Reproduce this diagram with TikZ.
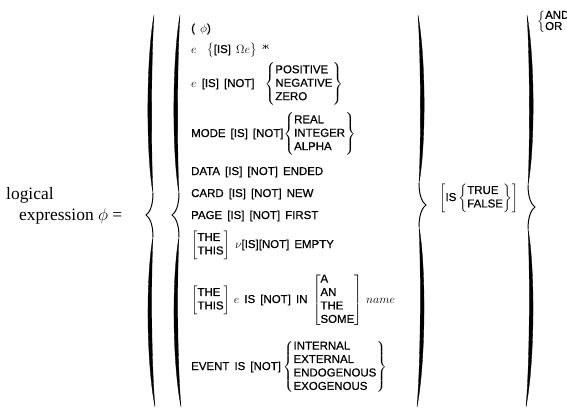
\documentclass[tikz,border=0pt]{standalone}
\usepackage{amsmath}
\usepackage{fontspec}
\usepackage{tikz}
\newfontfamily\capsfont[WordSpace=1.6, FakeBold=0.6]{Liberation Sans}
\newfontfamily\serifont{Liberation Serif}
\newfontfamily\symfont{DejaVu Sans}
\newcommand{\choice}[1]{\left\{\begin{tabular}{@{}l@{}}#1\end{tabular}\right\}}
\newcommand{\option}[1]{\left[\begin{tabular}{@{}l@{}}#1\end{tabular}\right]}
% #1 = x of tip, #2 = 1 for a left brace, -1 for a right one, #3 = y of tip
\newcommand{\bigbrace}[3]{%
\begin{scope}[shift={(#1,0)}, xscale=#2]
\filldraw[line width=0.3pt] (8,15) .. controls (0,60) and (0,{#3-60}) .. (7,{#3-22})
  .. controls (5,{#3-60}) and (5,60) .. (8,15);
\draw[line width=1pt] (7,{#3-22}) .. controls (7,{#3-8}) and (3,{#3-2}) .. (0,#3)
  .. controls (3,{#3+2}) and (7,{#3+8}) .. (7,{#3+22});
\filldraw[line width=0.3pt] (7,{#3+22}) .. controls (0,{#3+60}) and (0,360) .. (9,407)
  .. controls (5,360) and (5,{#3+60}) .. (7,{#3+22});
\end{scope}}

\begin{document}
\begin{tikzpicture}[x=1bp, y=-1bp,
  entry/.style={anchor=base west, inner sep=0pt, font=\capsfont\fontsize{11.5}{13.5}\selectfont},
  lhs/.style={anchor=base west, inner sep=0pt, font=\serifont\fontsize{17.5}{20}\selectfont}]
\useasboundingbox (0,0) rectangle (567,408);

\node[lhs] (logical) at (6,199) {logical};
\node[lhs] (expr) at (19,220) {expression $\phi$ =};

\bigbrace{146}{1}{215}
\bigbrace{172}{1}{215}
\bigbrace{426}{-1}{205}
\bigbrace{535}{-1}{207}

\node[entry] (nil) at (191,32) {( $\phi$)};
\node[entry] (omega) at (191,53) {$e$ \ $\bigl\{$[IS] $\Omega e\bigr\}$ \raisebox{4pt}{\symfont\fontsize{8}{8}\selectfont ж}};
\node[entry] (sign) at (191,87) {$e$ [IS] [NOT]\ \ $\choice{POSITIVE\\NEGATIVE\\ZERO}$};
\node[entry] (mode) at (191,137) {MODE [IS] [NOT]$\choice{REAL\\INTEGER\\ALPHA}$};
\node[entry] (data) at (191,175) {DATA [IS] [NOT] ENDED};
\node[entry] (card) at (191,197) {CARD [IS] [NOT] NEW};
\node[entry] (page) at (191,219) {PAGE [IS] [NOT] FIRST};
\node[entry] (empty) at (191,248) {$\option{THE\\THIS}$ $\nu$[IS][NOT] EMPTY};
\node[entry] (member) at (191,303) {$\option{THE\\THIS}\,e$ IS [NOT] IN $\option{A\\AN\\THE\\SOME}\,name$};
\node[entry] (event) at (191,370) {EVENT IS [NOT]$\,\choice{INTERNAL\\EXTERNAL\\ENDOGENOUS\\EXOGENOUS}$};

\node[entry] (truth) at (439,201) {$\left[\mbox{IS}\choice{TRUE\\FALSE}\right]$};
\node[entry, font=\capsfont\fontsize{11.5}{10.5}\selectfont] (conn) at (537,25)
  {$\left\{\begin{tabular}{@{}l@{}}AND\\OR\end{tabular}\right.$};
\end{tikzpicture}
\end{document}
